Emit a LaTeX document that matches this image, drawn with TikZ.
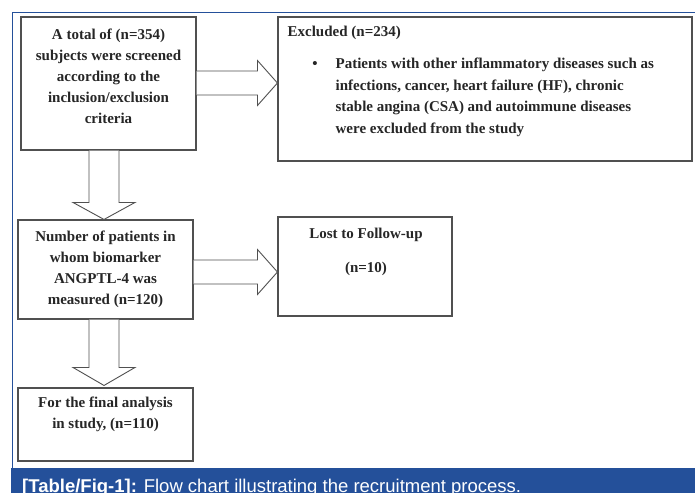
\documentclass[tikz,border=0pt]{standalone}
\usepackage{fontspec}
\setmainfont{Liberation Serif}
\setsansfont{Liberation Sans}
\usetikzlibrary{calc,shadows}
\definecolor{frameblue}{HTML}{24509A}
\definecolor{boxline}{HTML}{505050}
\newcommand{\fl}{\rule{0pt}{12pt}}
\tikzset{
  flowbox/.style={draw=boxline, line width=1.1pt, fill=white, rectangle, inner sep=0pt,
    drop shadow={shadow xshift=1.2pt, shadow yshift=-1.2pt, fill=black!35, opacity=0.6}},
  boxtext/.style={font=\bfseries\fontsize{15}{21}\selectfont, inner sep=0pt, text=black!85},
  blockarrow/.style={draw=boxline, line width=0.9pt, fill=white, line join=miter},
  captxt/.style={font=\sffamily\fontsize{18.5}{20}\selectfont, text=white, inner sep=0pt, anchor=base west}
}
\begin{document}
\begin{tikzpicture}[x=1pt,y=-1pt]
\useasboundingbox (0,0) rectangle (695,493);
% frame
\draw[frameblue, line width=1.3pt] (12.5,468) -- (12.5,12.5) -- (695,12.5);
\fill[frameblue] (11,468) rectangle (695,493);
\node[captxt] (cap) at (22,492.5) {\textbf{[Table/Fig-1]:} Flow chart illustrating the recruitment process.};
% boxes
\node[flowbox, minimum width=175pt, minimum height=133pt] (b1) at (108.5,83.5) {};
\node[flowbox, minimum width=414pt, minimum height=144pt] (b2) at (485,89) {};
\node[flowbox, minimum width=175pt, minimum height=99pt] (b3) at (105.5,269.5) {};
\node[flowbox, minimum width=174pt, minimum height=99pt] (b4) at (365,266.5) {};
\node[flowbox, minimum width=175pt, minimum height=73pt] (b5) at (105.5,424.5) {};
% texts
\node[boxtext, anchor=north, align=center] (t1) at ([yshift=-11pt]b1.north)
  {\fl A total of (n=354)\\subjects were screened\\according to the\\inclusion/exclusion\\criteria};
\node[boxtext, anchor=north west, align=left] (t2a) at ([xshift=10pt,yshift=-7.5pt]b2.north west)
  {\fl Excluded (n=234)};
\node[boxtext, anchor=north west, align=left, font=\bfseries\fontsize{15}{21.5}\selectfont] (t2c) at ([xshift=58pt,yshift=-40pt]b2.north west)
  {\fl\llap{\textbullet\hspace{18pt}}Patients with other inflammatory diseases such as\\infections, cancer, heart failure (HF), chronic\\stable angina (CSA) and autoimmune diseases\\were excluded from the study};
\node[boxtext, anchor=north, align=center] (t3) at ([yshift=-10pt]b3.north)
  {\fl Number of patients in\\whom biomarker\\ANGPTL-4 was\\measured (n=120)};
\node[boxtext, anchor=north, align=center] (t4) at ([xshift=1pt,yshift=-10pt]b4.north)
  {\fl Lost to Follow-up\\[13pt](n=10)};
\node[boxtext, anchor=north, align=center] (t5) at ([yshift=-8pt]b5.north)
  {\fl For the final analysis\\in study, (n=110)};
% block arrows
\coordinate (r1s) at ([yshift=0.5pt]b1.east);
\coordinate (r1t) at (r1s -| b2.west);
\draw[blockarrow] ($(r1s)+(0,-12)$) -- ($(r1t)+(-20,-12)$) -- ($(r1t)+(-20,-22.5)$) -- (r1t)
  -- ($(r1t)+(-20,22.5)$) -- ($(r1t)+(-20,12)$) -- ($(r1s)+(0,12)$);
\coordinate (r2s) at ([yshift=-2.5pt]b3.east);
\coordinate (r2t) at (r2s -| b4.west);
\draw[blockarrow] ($(r2s)+(0,-12)$) -- ($(r2t)+(-20,-12)$) -- ($(r2t)+(-20,-22.5)$) -- (r2t)
  -- ($(r2t)+(-20,22.5)$) -- ($(r2t)+(-20,12)$) -- ($(r2s)+(0,12)$);
\coordinate (d1s) at ([xshift=-4.5pt]b1.south);
\coordinate (d1t) at (d1s |- b3.north);
\draw[blockarrow] ($(d1s)+(-15,0)$) -- ($(d1t)+(-15,-17)$) -- ($(d1t)+(-31,-17)$) -- (d1t)
  -- ($(d1t)+(31,-17)$) -- ($(d1t)+(15,-17)$) -- ($(d1s)+(15,0)$);
\coordinate (d2s) at ([xshift=-1.5pt]b3.south);
\coordinate (d2t) at ([yshift=2pt]d2s |- b5.north);
\draw[blockarrow] ($(d2s)+(-15,0)$) -- ($(d2t)+(-15,-18)$) -- ($(d2t)+(-31,-18)$) -- (d2t)
  -- ($(d2t)+(31,-18)$) -- ($(d2t)+(15,-18)$) -- ($(d2s)+(15,0)$);
\end{tikzpicture}
\end{document}
